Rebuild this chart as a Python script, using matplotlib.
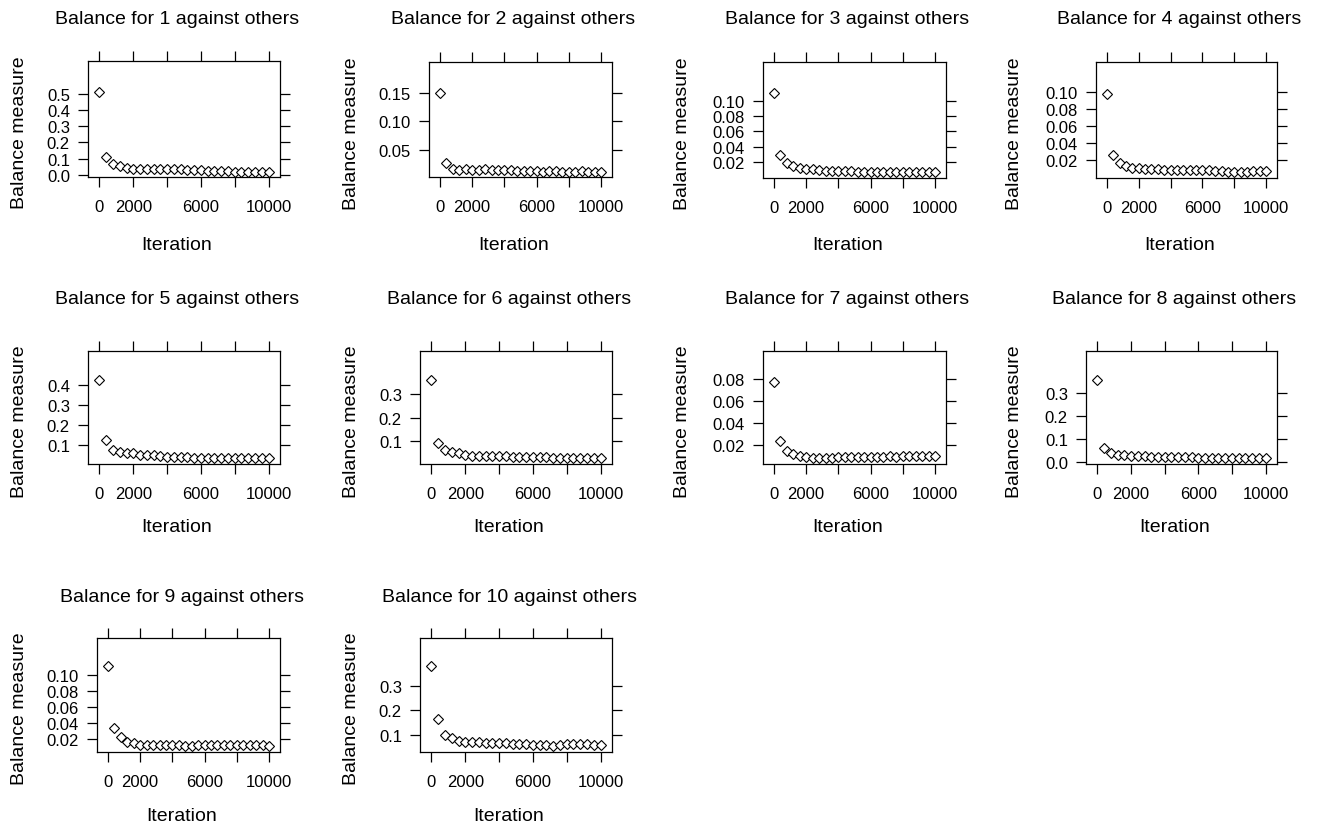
import matplotlib
matplotlib.use("Agg")
import matplotlib.pyplot as plt

plt.rcParams['font.family'] = ['Liberation Sans', 'DejaVu Sans']

# iterations at which the balance was recorded
iterations = [0, 400, 800, 1200, 1600, 2000, 2400, 2800, 3200, 3600, 4000, 4400, 4800,
              5200, 5600, 6000, 6400, 6800, 7200, 7600, 8000, 8400, 8800, 9200, 9600, 10000]

bal_1 = [0.51, 0.11, 0.065, 0.052, 0.044, 0.036, 0.035, 0.035, 0.034, 0.034, 0.034, 0.033, 0.033,
         0.028, 0.027, 0.027, 0.026, 0.026, 0.025, 0.021, 0.020, 0.020, 0.020, 0.019, 0.019, 0.018]
bal_2 = [0.151, 0.027, 0.016, 0.015, 0.017, 0.015, 0.015, 0.017, 0.015, 0.015, 0.015, 0.015, 0.013,
         0.013, 0.013, 0.013, 0.011, 0.012, 0.012, 0.011, 0.011, 0.011, 0.012, 0.011, 0.011, 0.010]
bal_3 = [0.110, 0.030, 0.019, 0.0148, 0.0126, 0.0110, 0.0110, 0.0095, 0.0092, 0.0092, 0.0092, 0.0092, 0.0090,
         0.0080, 0.0080, 0.0080, 0.0080, 0.0080, 0.0080, 0.0080, 0.0078, 0.0078, 0.0078, 0.0078, 0.0078, 0.0075]
bal_4 = [0.097, 0.026, 0.0165, 0.0135, 0.0108, 0.0105, 0.0095, 0.0092, 0.0092, 0.0090, 0.0080, 0.0080, 0.0080,
         0.0080, 0.0080, 0.0080, 0.0080, 0.0078, 0.0070, 0.0068, 0.0068, 0.0068, 0.0068, 0.0072, 0.0078, 0.0078]
bal_5 = [0.423, 0.122, 0.075, 0.063, 0.056, 0.057, 0.048, 0.047, 0.046, 0.041, 0.040, 0.040, 0.040,
         0.039, 0.033, 0.032, 0.032, 0.032, 0.032, 0.032, 0.032, 0.032, 0.032, 0.032, 0.032, 0.031]
bal_6 = [0.357, 0.093, 0.066, 0.058, 0.050, 0.044, 0.041, 0.041, 0.040, 0.040, 0.039, 0.039, 0.036,
         0.035, 0.035, 0.035, 0.035, 0.034, 0.032, 0.031, 0.031, 0.030, 0.030, 0.030, 0.029, 0.029]
bal_7 = [0.078, 0.024, 0.015, 0.012, 0.0097, 0.0095, 0.0085, 0.0083, 0.0085, 0.0085, 0.0093, 0.0093, 0.0093,
         0.0095, 0.0095, 0.0095, 0.0095, 0.0095, 0.0100, 0.0095, 0.0102, 0.0103, 0.0103, 0.0103, 0.0103, 0.0103]
bal_8 = [0.355, 0.058, 0.037, 0.030, 0.030, 0.026, 0.026, 0.024, 0.021, 0.020, 0.020, 0.020, 0.020,
         0.020, 0.020, 0.018, 0.016, 0.015, 0.015, 0.015, 0.015, 0.015, 0.015, 0.015, 0.015, 0.014]
bal_9 = [0.111, 0.034, 0.023, 0.0165, 0.0150, 0.0135, 0.0128, 0.0125, 0.0125, 0.0125, 0.0125, 0.0125, 0.0115,
         0.0120, 0.0125, 0.0125, 0.0125, 0.0125, 0.0125, 0.0125, 0.0125, 0.0125, 0.0125, 0.0125, 0.0125, 0.0120]
bal_10 = [0.381, 0.163, 0.101, 0.085, 0.075, 0.069, 0.070, 0.070, 0.066, 0.065, 0.065, 0.065, 0.062,
          0.061, 0.061, 0.060, 0.060, 0.058, 0.056, 0.060, 0.061, 0.061, 0.061, 0.061, 0.060, 0.060]
balances = [bal_1, bal_2, bal_3, bal_4, bal_5, bal_6, bal_7, bal_8, bal_9, bal_10]

x_ticks = [0, 2000, 4000, 6000, 8000, 10000]
x_ticklabels = ['0', '2000', '', '6000', '', '10000']

y_ticks = [
    [0.0, 0.1, 0.2, 0.3, 0.4, 0.5],
    [0.05, 0.10, 0.15],
    [0.02, 0.04, 0.06, 0.08, 0.10],
    [0.02, 0.04, 0.06, 0.08, 0.10],
    [0.1, 0.2, 0.3, 0.4],
    [0.1, 0.2, 0.3],
    [0.02, 0.04, 0.06, 0.08],
    [0.0, 0.1, 0.2, 0.3],
    [0.02, 0.04, 0.06, 0.08, 0.10],
    [0.1, 0.2, 0.3],
]
y_fmt = ['%.1f', '%.2f', '%.2f', '%.2f', '%.1f', '%.1f', '%.2f', '%.1f', '%.2f', '%.1f']
y_lims = [(-0.014, 0.704), (0.002, 0.205), (-0.0003, 0.150), (-0.0008, 0.135), (0.003, 0.570),
          (0.006, 0.478), (0.0027, 0.106), (-0.010, 0.480), (0.0042, 0.146), (0.030, 0.493)]

# plot boxes in pixels: left, right, top, bottom
W, H = 1326, 828
boxes = [(88, 280, 62, 178), (429, 612, 63, 178), (763, 946, 63, 179), (1096, 1277, 63, 179),
         (88, 280, 352, 465), (420, 612, 352, 465), (763, 946, 352, 465), (1086, 1277, 352, 465),
         (97, 280, 639, 753), (420, 612, 639, 753)]
col_ylab_x = [20, 352, 683, 1015]
row_title_y = [20, 300, 598]
row_xlab_y = [245, 528, 817]

fig = plt.figure(figsize=(W / 100, H / 100), dpi=100)

for i, vals in enumerate(balances):
    l, r, t, b = boxes[i]
    row, col = i // 4, i % 4
    ax = fig.add_axes([l / W, 1 - b / H, (r - l) / W, (b - t) / H])
    ax.plot(iterations, vals, linestyle='none', marker='D', markersize=4.8,
            markerfacecolor='white', markeredgecolor='black', markeredgewidth=0.8)
    ax.set_xlim(-680, 10680)
    ax.set_ylim(*y_lims[i])
    ax.set_xticks(x_ticks)
    ax.set_xticklabels(x_ticklabels)
    ax.set_yticks(y_ticks[i])
    ax.set_yticklabels([y_fmt[i] % v for v in y_ticks[i]])
    ax.tick_params(direction='out', length=7, width=0.9, top=True, right=True,
                   labeltop=False, labelright=False, labelsize=12, colors='black')
    ax.tick_params(axis='x', pad=9)
    ax.tick_params(axis='y', pad=6)
    for s in ax.spines.values():
        s.set_linewidth(0.9)

    cx = (l + r) / 2 - 7
    fig.text(cx / W, 1 - row_title_y[row] / H, f'Balance for {i + 1} against others',
             ha='center', va='center', fontsize=14)
    fig.text(cx / W, 1 - row_xlab_y[row] / H, 'Iteration', ha='center', va='center', fontsize=14)
    fig.text(col_ylab_x[col] / W, 1 - ((t + b) / 2 + 13) / H, 'Balance measure',
             ha='center', va='center', rotation=90, fontsize=14)

fig.savefig('out.png', dpi=100, facecolor='white')
